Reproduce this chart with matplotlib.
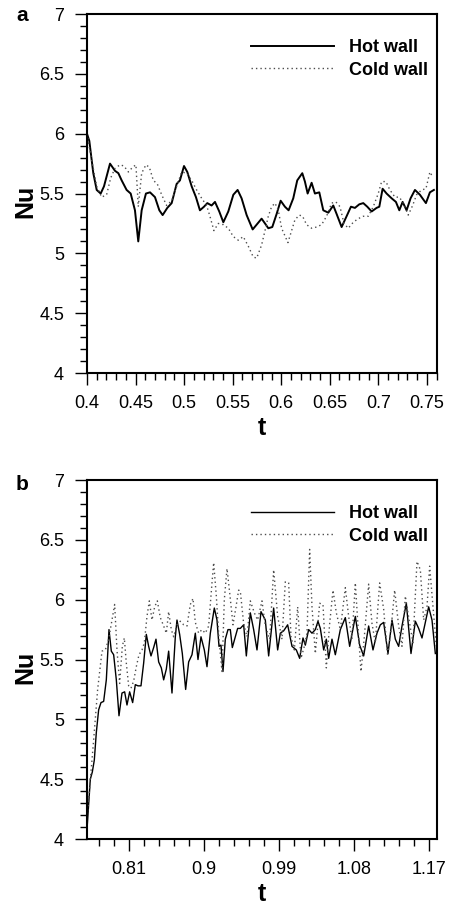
import numpy as np
import matplotlib
matplotlib.use("Agg")
import matplotlib.pyplot as plt
from matplotlib.ticker import FixedLocator, FuncFormatter

plt.rcParams['font.family'] = ['Liberation Sans', 'DejaVu Sans']

# ---- panel a data ----
t_hot_a = [0.4000, 0.4024, 0.4065, 0.4100, 0.4141, 0.4175, 0.4237, 0.4288, 0.4323, 0.4357,
           0.4408, 0.4450, 0.4494, 0.4528, 0.4563, 0.4607, 0.4649, 0.4700, 0.4745, 0.4779,
           0.4827, 0.4872, 0.4923, 0.4957, 0.4999, 0.5033, 0.5078, 0.5122, 0.5163, 0.5205,
           0.5239, 0.5283, 0.5318, 0.5362, 0.5404, 0.5455, 0.5507, 0.5551, 0.5592, 0.5644,
           0.5706, 0.5747, 0.5798, 0.5833, 0.5867, 0.5908, 0.5953, 0.5994, 0.6038, 0.6076,
           0.6124, 0.6165, 0.6217, 0.6244, 0.6272, 0.6313, 0.6347, 0.6392, 0.6433, 0.6485,
           0.6536, 0.6570, 0.6622, 0.6673, 0.6718, 0.6759, 0.6804, 0.6845, 0.6886, 0.6931,
           0.6982, 0.7010, 0.7044, 0.7085, 0.7137, 0.7181, 0.7216, 0.7250, 0.7291, 0.7332,
           0.7377, 0.7428, 0.7490, 0.7531, 0.7572]
nu_hot_a = [6.00, 5.94, 5.67, 5.53, 5.50, 5.56, 5.75, 5.69, 5.67, 5.61,
            5.53, 5.50, 5.36, 5.10, 5.36, 5.50, 5.51, 5.47, 5.36, 5.32,
            5.38, 5.42, 5.58, 5.61, 5.73, 5.68, 5.56, 5.47, 5.36, 5.39,
            5.42, 5.40, 5.43, 5.35, 5.26, 5.35, 5.49, 5.53, 5.46, 5.32,
            5.20, 5.24, 5.29, 5.25, 5.21, 5.22, 5.33, 5.44, 5.39, 5.36,
            5.46, 5.61, 5.67, 5.60, 5.50, 5.59, 5.50, 5.51, 5.36, 5.34,
            5.40, 5.33, 5.22, 5.31, 5.39, 5.38, 5.41, 5.42, 5.39, 5.35,
            5.38, 5.39, 5.54, 5.50, 5.46, 5.43, 5.36, 5.43, 5.36, 5.46,
            5.53, 5.49, 5.42, 5.51, 5.53]

t_cold_a = [0.4000, 0.4048, 0.4100, 0.4151, 0.4202, 0.4244, 0.4288, 0.4340, 0.4381, 0.4426,
            0.4470, 0.4504, 0.4528, 0.4563, 0.4607, 0.4642, 0.4683, 0.4724, 0.4769, 0.4820,
            0.4872, 0.4923, 0.4975, 0.5026, 0.5078, 0.5129, 0.5181, 0.5232, 0.5266, 0.5307,
            0.5352, 0.5404, 0.5455, 0.5507, 0.5558, 0.5609, 0.5661, 0.5712, 0.5747, 0.5798,
            0.5833, 0.5867, 0.5901, 0.5936, 0.5970, 0.6004, 0.6069, 0.6107, 0.6141, 0.6186,
            0.6220, 0.6261, 0.6313, 0.6364, 0.6416, 0.6467, 0.6519, 0.6563, 0.6605, 0.6646,
            0.6690, 0.6742, 0.6793, 0.6845, 0.6896, 0.6948, 0.6999, 0.7034, 0.7078, 0.7119,
            0.7171, 0.7216, 0.7257, 0.7308, 0.7353, 0.7394, 0.7445, 0.7490, 0.7531, 0.7559]
nu_cold_a = [6.00, 5.78, 5.56, 5.47, 5.49, 5.63, 5.71, 5.74, 5.73, 5.68,
             5.72, 5.74, 5.39, 5.67, 5.74, 5.72, 5.61, 5.58, 5.49, 5.40,
             5.44, 5.56, 5.68, 5.67, 5.61, 5.53, 5.46, 5.40, 5.31, 5.19,
             5.25, 5.24, 5.21, 5.14, 5.11, 5.14, 5.06, 4.97, 4.96, 5.07,
             5.19, 5.31, 5.39, 5.42, 5.36, 5.21, 5.09, 5.19, 5.28, 5.32,
             5.31, 5.24, 5.21, 5.22, 5.24, 5.31, 5.42, 5.43, 5.39, 5.25,
             5.21, 5.26, 5.29, 5.31, 5.31, 5.39, 5.50, 5.60, 5.60, 5.53,
             5.47, 5.47, 5.42, 5.32, 5.40, 5.49, 5.53, 5.54, 5.68, 5.64]

# ---- panel b data ----
t_hot_b = [0.7600, 0.7636, 0.7660, 0.7684, 0.7708, 0.7736, 0.7764, 0.7796, 0.7828, 0.7860,
           0.7888, 0.7916, 0.7948, 0.7980, 0.8016, 0.8048, 0.8076, 0.8108, 0.8144, 0.8176,
           0.8208, 0.8244, 0.8276, 0.8308, 0.8336, 0.8364, 0.8396, 0.8424, 0.8456, 0.8488,
           0.8516, 0.8548, 0.8576, 0.8616, 0.8656, 0.8676, 0.8708, 0.8740, 0.8780, 0.8816,
           0.8856, 0.8896, 0.8928, 0.8964, 0.9004, 0.9036, 0.9076, 0.9124, 0.9156, 0.9180,
           0.9204, 0.9228, 0.9256, 0.9288, 0.9316, 0.9340, 0.9376, 0.9404, 0.9436,
           0.9476, 0.9508, 0.9556, 0.9596, 0.9636, 0.9684, 0.9736, 0.9776, 0.9836, 0.9884,
           0.9916, 0.9956, 1.0004, 1.0056, 1.0108, 1.0148, 1.0188, 1.0216, 1.0256, 1.0296,
           1.0336, 1.0368, 1.0396, 1.0436, 1.0468, 1.0496, 1.0536, 1.0576, 1.0636, 1.0696,
           1.0748, 1.0816, 1.0868, 1.0916, 1.0976, 1.1028, 1.1076, 1.1116, 1.1156, 1.1208,
           1.1256, 1.1296, 1.1336, 1.1376, 1.1428, 1.1484, 1.1536, 1.1576, 1.1616, 1.1656,
           1.1696, 1.1736, 1.1776]
nu_hot_b = [4.12, 4.50, 4.56, 4.66, 4.89, 5.08, 5.14, 5.15, 5.33, 5.75,
            5.57, 5.54, 5.33, 5.03, 5.22, 5.23, 5.12, 5.23, 5.14, 5.29,
            5.28, 5.28, 5.47, 5.71, 5.61, 5.53, 5.60, 5.67, 5.48, 5.43,
            5.33, 5.42, 5.57, 5.22, 5.69, 5.83, 5.71, 5.55, 5.25, 5.48,
            5.54, 5.72, 5.50, 5.69, 5.58, 5.44, 5.72, 5.93, 5.83, 5.61,
            5.62, 5.40, 5.67, 5.75, 5.75, 5.60, 5.69, 5.76, 5.76,
            5.79, 5.53, 5.89, 5.75, 5.58, 5.90, 5.83, 5.53, 5.93, 5.58,
            5.72, 5.74, 5.79, 5.61, 5.58, 5.51, 5.68, 5.62, 5.75, 5.72,
            5.75, 5.82, 5.76, 5.58, 5.67, 5.51, 5.67, 5.54, 5.75, 5.85,
            5.61, 5.86, 5.62, 5.53, 5.78, 5.58, 5.72, 5.79, 5.81, 5.55,
            5.83, 5.67, 5.61, 5.78, 5.97, 5.55, 5.82, 5.76, 5.68, 5.81,
            5.94, 5.83, 5.55]

t_cold_b = [0.7600, 0.7656, 0.7676, 0.7724, 0.7776, 0.7816, 0.7856, 0.7896, 0.7928, 0.7956,
            0.7988, 0.8020, 0.8044, 0.8068, 0.8096, 0.8124, 0.8156, 0.8188, 0.8220, 0.8256,
            0.8284, 0.8316, 0.8344, 0.8376, 0.8408, 0.8440, 0.8476, 0.8516, 0.8548, 0.8576,
            0.8608, 0.8636, 0.8676, 0.8716, 0.8756, 0.8796, 0.8836, 0.8868, 0.8896, 0.8936,
            0.8976, 0.9016, 0.9056, 0.9096, 0.9116, 0.9148, 0.9180, 0.9216, 0.9244, 0.9276,
            0.9308, 0.9348, 0.9384, 0.9416, 0.9436,
            0.9476, 0.9516, 0.9556, 0.9604, 0.9644, 0.9696, 0.9736, 0.9788, 0.9836, 0.9884,
            0.9936, 0.9976, 1.0016, 1.0044, 1.0084, 1.0124, 1.0164, 1.0204, 1.0236, 1.0268,
            1.0296, 1.0336, 1.0388, 1.0428, 1.0468, 1.0508, 1.0548, 1.0588, 1.0636, 1.0696,
            1.0736, 1.0776, 1.0816, 1.0856, 1.0884, 1.0924, 1.0976, 1.1016, 1.1056, 1.1108,
            1.1156, 1.1204, 1.1244, 1.1288, 1.1336, 1.1376, 1.1416, 1.1468, 1.1508, 1.1556,
            1.1596, 1.1636, 1.1676, 1.1708, 1.1748, 1.1788]
nu_cold_b = [4.20, 4.66, 4.83, 5.25, 5.57, 5.58, 5.67, 5.83, 5.96, 5.58,
             5.30, 5.61, 5.68, 5.47, 5.28, 5.26, 5.32, 5.44, 5.54, 5.58,
             5.64, 5.86, 5.99, 5.83, 5.94, 5.99, 5.85, 5.78, 5.72, 5.90,
             5.75, 5.69, 5.79, 5.82, 5.79, 5.78, 5.96, 6.01, 5.81, 5.72,
             5.75, 5.72, 5.78, 6.14, 6.31, 6.03, 5.67, 5.40, 6.00, 6.26,
             6.06, 5.79, 5.94, 6.08, 6.07,
             5.80, 5.69, 5.99, 5.89, 5.83, 5.99, 5.78, 5.67, 6.25, 5.86,
             5.67, 6.15, 6.14, 5.69, 5.58, 5.94, 5.51, 5.61, 5.72, 6.42,
             5.94, 5.55, 5.97, 5.96, 5.43, 5.80, 6.08, 5.89, 5.75, 6.10,
             5.86, 5.67, 6.14, 5.69, 5.40, 5.69, 6.13, 5.80, 5.64, 6.14,
             5.92, 5.53, 5.75, 6.08, 5.78, 5.61, 6.03, 5.80, 5.64, 6.32,
             6.25, 5.83, 5.94, 6.28, 5.94, 5.61]

# ---- axis ticks ----
y_major = [4, 4.5, 5, 5.5, 6, 6.5, 7]
x_major_a = [0.4, 0.45, 0.5, 0.55, 0.6, 0.65, 0.7, 0.75]
x_major_b = [0.81, 0.9, 0.99, 1.08, 1.17]


def fmt(v, pos):
    return '%g' % round(v, 3)


def style_axes(ax, xlim, xmajor, xminor, panel, label_y):
    ax.set_ylim(4, 7)
    ax.set_xlim(*xlim)
    ax.xaxis.set_major_locator(FixedLocator(xmajor))
    ax.xaxis.set_minor_locator(FixedLocator(xminor))
    ax.yaxis.set_major_locator(FixedLocator(y_major))
    ax.yaxis.set_minor_locator(FixedLocator(np.arange(4, 7.001, 0.1)))
    ax.xaxis.set_major_formatter(FuncFormatter(fmt))
    ax.yaxis.set_major_formatter(FuncFormatter(fmt))
    ax.tick_params(which='both', direction='out', top=False, right=False, width=1.0, color='black')
    ax.tick_params(which='major', length=8.5, labelsize=13)
    ax.tick_params(axis='x', which='major', pad=7)
    ax.tick_params(axis='y', which='major', pad=8)
    ax.tick_params(which='minor', length=5)
    for s in ax.spines.values():
        s.set_linewidth(1.5)
    ax.set_xlabel('t', fontsize=18, fontweight='bold', va='center')
    ax.xaxis.set_label_coords(0.5, -0.153)
    ax.set_ylabel('Nu', fontsize=18, fontweight='bold', va='center')
    ax.yaxis.set_label_coords(-0.176, 0.479)
    ax.legend(loc='upper right', bbox_to_anchor=(0.975, 0.93), frameon=False,
              prop={'weight': 'bold', 'size': 13}, handlelength=4.6,
              handletextpad=0.85, labelspacing=0.3, borderaxespad=0, borderpad=0)
    ax.text(-0.186, label_y, panel, transform=ax.transAxes, fontsize=15, fontweight='bold',
            ha='center', va='center')


fig = plt.figure(figsize=(4.5, 9.05), dpi=100)
ax_a = fig.add_axes([0.1933, 0.5878, 0.7778, 0.3967])
ax_b = fig.add_axes([0.1933, 0.0729, 0.7778, 0.3967])

ax_a.plot(t_hot_a, nu_hot_a, color='black', lw=1.4, label='Hot wall')
ax_a.plot(t_cold_a, nu_cold_a, color='0.3', lw=1.0, ls=(0, (1, 2.2)), label='Cold wall')
style_axes(ax_a, (0.4, 0.7604), x_major_a, np.arange(0.40, 0.7604, 0.01), 'a', 0.997)

ax_b.plot(t_hot_b, nu_hot_b, color='black', lw=1.0, label='Hot wall')
ax_b.plot(t_cold_b, nu_cold_b, color='0.3', lw=1.0, ls=(0, (1, 2.2)), label='Cold wall')
style_axes(ax_b, (0.7596, 1.1796), x_major_b, 0.81 + 0.018 * np.arange(-2, 21), 'b', 0.988)

fig.savefig('out.png', dpi=100)
